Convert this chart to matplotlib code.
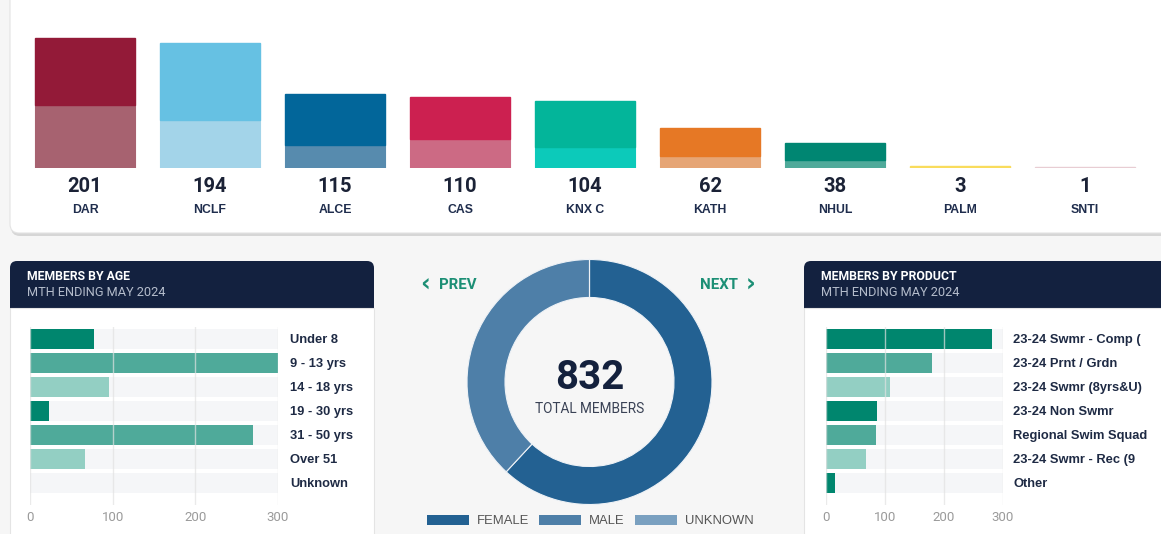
"""
Members dashboard: club totals, age bands, gender split and products.
"""

import numpy as np
import matplotlib
matplotlib.use("Agg")
import matplotlib.pyplot as plt
from matplotlib.patches import FancyBboxPatch, Rectangle, Patch

# ---- data -------------------------------------------------------------
clubs = ['DAR', 'NCLF', 'ALCE', 'CAS', 'KNX C', 'KATH', 'NHUL', 'PALM', 'SNTI']
club_totals = [201, 194, 115, 110, 104, 62, 38, 3, 1]
club_male = [98, 74, 36, 45, 33, 19, 12, 0, 0]
club_female = [t - m for t, m in zip(club_totals, club_male)]
club_dark = ['#931a38', '#66c1e3', '#02669a', '#cc2050', '#03b59a',
             '#e67825', '#008672', '#f9dc5c', '#e8cdd3']
club_light = ['#a76270', '#a3d4e9', '#578bae', '#cc6a84', '#0ccaba',
              '#e6a575', '#4faa9a', '#f9dc5c', '#e8cdd3']

age_bands = ['Under 8', '9 - 13 yrs', '14 - 18 yrs', '19 - 30 yrs',
             '31 - 50 yrs', 'Over 51', 'Unknown']
age_counts = [77, 300, 96, 23, 270, 66, 0]

products = ['23-24 Swmr - Comp (', '23-24 Prnt / Grdn', '23-24 Swmr (8yrs&U)',
            '23-24 Non Swmr', 'Regional Swim Squad', '23-24 Swmr - Rec (9',
            'Other']
product_counts = [281, 179, 108, 86, 85, 67, 15]

genders = ['FEMALE', 'MALE', 'UNKNOWN']
gender_counts = [515, 317, 0]
gender_colors = ['#236192', '#4e7fa8', '#7aa0c0']

total_members = 832
teal_cycle = ['#00866e', '#4faa9a', '#93cfc3']

# ---- figure -----------------------------------------------------------
W, H = 1161, 534
fig = plt.figure(figsize=(W / 100, H / 100), dpi=100)
fig.patch.set_facecolor('#f6f6f6')

NAVY = '#13213f'
LABEL = '#1e2a44'


def px_axes(left, top, right, bottom):
    """Axes placed by pixel edges (origin top-left)."""
    ax = fig.add_axes([left / W, 1 - bottom / H, (right - left) / W, (bottom - top) / H])
    ax.patch.set_alpha(0)
    return ax


bg = fig.add_axes([0, 0, 1, 1])
bg.set_xlim(0, W)
bg.set_ylim(H, 0)
bg.axis('off')

# top card with a soft shadow
bg.add_patch(FancyBboxPatch((11, -30), 1180, 266, boxstyle='round,pad=0,rounding_size=9',
                            fc='#d6d6d6', ec='none'))
bg.add_patch(FancyBboxPatch((10, -30), 1180, 263, boxstyle='round,pad=0,rounding_size=9',
                            fc='white', ec='#e4e4e4', lw=0.8))

# bottom cards
for x0, x1, title in [(10, 374, 'MEMBERS BY AGE'), (804, 1200, 'MEMBERS BY PRODUCT')]:
    bg.add_patch(FancyBboxPatch((x0, 261), x1 - x0, 300, boxstyle='round,pad=0,rounding_size=7',
                                fc=NAVY, ec='none'))
    bg.add_patch(Rectangle((x0, 308), x1 - x0, 260, fc='white', ec='#e4e4e4', lw=0.8))
    bg.text(x0 + 17, 276, title, color='white', fontsize=8.8, fontweight='bold',
            family='Roboto', va='center')
    bg.text(x0 + 17, 293, 'MTH ENDING MAY 2024', color='#b4bccb', fontsize=9.2,
            family='Roboto', va='center')

# ---- top stacked bars --------------------------------------------------
ax = px_axes(10, 20, 1161, 168)
x = np.arange(len(clubs))
ax.bar(x, club_male, width=0.8, color=club_light, edgecolor=club_light, lw=0.8)
ax.bar(x, club_female, width=0.8, bottom=club_male, color=club_dark,
       edgecolor=club_dark, lw=1.0)
ax.set_xlim(-0.6, 8.608)
ax.set_ylim(0, 229.5)
ax.axis('off')
for i, (name, tot) in enumerate(zip(clubs, club_totals)):
    ax.annotate(str(tot), xy=(i, 0), xytext=(0, -18), textcoords='offset pixels',
                ha='center', va='center', fontsize=14.5, fontweight='bold',
                family='Roboto', color='#1b2236', annotation_clip=False)
    ax.annotate(name, xy=(i, 0), xytext=(0, -42), textcoords='offset pixels',
                ha='center', va='center', fontsize=8.8, fontweight='bold',
                family='Liberation Sans', color='#1f2d4d', annotation_clip=False)


# ---- horizontal bar panels --------------------------------------------
def hbar_panel(left, right, labels, counts, label_pad):
    ax = px_axes(left, 327, right, 505)
    y = np.arange(len(labels))
    colors = [teal_cycle[i % 3] for i in y]
    ax.barh(y, [300] * len(y), height=0.82, color='#f5f6f8', zorder=1)
    ax.barh(y, counts, height=0.82, color=colors, zorder=2)
    ax.set_xlim(0, 300)
    ax.set_ylim(6.917, -0.5)
    ax.set_xticks([0, 100, 200, 300])
    ax.grid(axis='x', color='#e2e2e2', lw=1, alpha=0.7, zorder=3)
    ax.set_axisbelow(False)
    for s in ax.spines.values():
        s.set_visible(False)
    ax.tick_params(axis='x', length=0, pad=4, labelsize=9.5, labelcolor='#9a9a9a')
    ax.yaxis.tick_right()
    ax.set_yticks(y)
    ax.set_yticklabels(labels, fontsize=9.3, fontweight='bold', color=LABEL,
                       family='Liberation Sans', ha='left')
    ax.tick_params(axis='y', length=0, pad=label_pad)
    for lab in ax.get_xticklabels():
        lab.set_family('Roboto')
    return ax


hbar_panel(30, 278, age_bands, age_counts, 9)
hbar_panel(826, 1003, products, product_counts, 7.5)

# ---- donut -------------------------------------------------------------
R = 122.5
cx, cy = 589.5, 382
half = 135
dax = px_axes(cx - half, cy - half, cx + half, cy + half)
dax.pie(gender_counts, colors=gender_colors, radius=1, startangle=90,
        counterclock=False, wedgeprops=dict(width=0.31, edgecolor='#eef2f6', linewidth=0.8))
lim = half / R
dax.set_xlim(-lim, lim)
dax.set_ylim(-lim, lim)
dax.set_aspect('equal')
dax.text(0, 0.03, str(total_members), ha='center', va='center', fontsize=29,
         fontweight='bold', family='Roboto', color='#14213d')
dax.text(0, -0.22, 'TOTAL MEMBERS', ha='center', va='center', fontsize=9.8,
         family='Roboto', color='#3a4255')

bg.text(420, 285, '‹', color='#1c8f75', fontsize=17, fontweight='bold',
        family='DejaVu Sans', va='center', ha='left')
bg.text(439, 285, 'PREV', color='#1c8f75', fontsize=10.8, fontweight='bold',
        family='Roboto', va='center', ha='left')
bg.text(738, 285, 'NEXT', color='#1c8f75', fontsize=10.8, fontweight='bold',
        family='Roboto', va='center', ha='right')
bg.text(746, 285, '›', color='#1c8f75', fontsize=17, fontweight='bold',
        family='DejaVu Sans', va='center', ha='left')

handles = [Patch(facecolor=c, edgecolor='none') for c in gender_colors]
leg = bg.legend(handles, genders, loc='center', bbox_to_anchor=(590 / W, 1 - 521 / H),
                bbox_transform=fig.transFigure, ncol=3, frameon=False,
                handlelength=3.2, handleheight=0.9, handletextpad=0.6,
                columnspacing=0.8, prop={'family': 'Liberation Sans', 'size': 9.4})
for t in leg.get_texts():
    t.set_color('#555555')

fig.savefig('out.png', dpi=100, facecolor=fig.get_facecolor())
